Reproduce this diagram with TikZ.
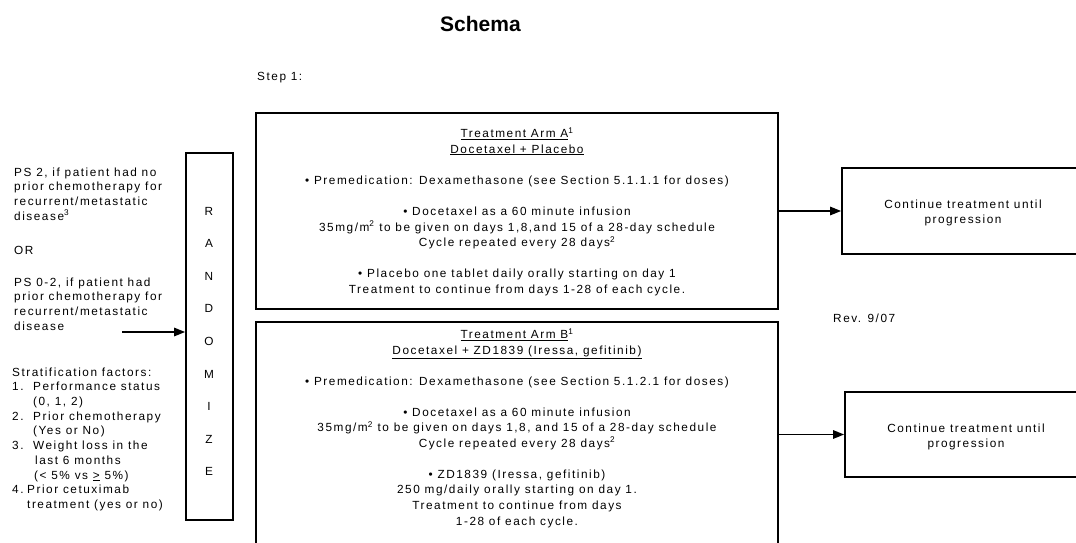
\documentclass[tikz,border=0pt]{standalone}
\usepackage{fontspec}
\setmainfont{Liberation Sans}[LetterSpace=13]
\newfontfamily\titlefont{Liberation Sans}
\usetikzlibrary{arrows.meta}
\begin{document}
\begin{tikzpicture}[x=1pt,y=-1pt,
  box/.style={draw,line width=1.8pt,inner sep=0pt},
  txt/.style={inner sep=0pt,font=\fontsize{11.8}{15.6}\selectfont},
  ltxt/.style={inner sep=0pt,align=left,anchor=north west,font=\fontsize{11.8}{14.7}\selectfont},
  arr/.style={line width=1.4pt,-{Triangle[length=11pt,width=8.5pt]}}]
\useasboundingbox (0,0) rectangle (1076,542);
\clip (0,0) rectangle (1076,542);

\node[anchor=base,inner sep=0pt] (title) at (480.5,31) {\titlefont\bfseries\fontsize{21}{25}\selectfont Schema};
\node[txt,anchor=base west] (step) at (257,80) {Step 1:};
\node[txt,anchor=base west] (rev) at (833,322) {Rev. 9/07};

% boxes
\node[box,minimum width=47pt,minimum height=367pt] (rnd) at (209.5,336.5) {};
\node[box,minimum width=522pt,minimum height=196pt] (armA) at (517,211) {};
\node[box,minimum width=522pt,minimum height=250pt] (armB) at (517,447) {};
\node[box,minimum width=242pt,minimum height=86pt] (contA) at (963,211) {};
\node[box,minimum width=242pt,minimum height=85pt] (contB) at (966,434.5) {};

% randomize letters
\foreach \l [count=\i from 0] in {R,A,N,D,O,M,I,Z,E}
  \node[txt] (r\i) at (209,{211+32.6*\i}) {\l};

% arm texts
\node[txt,align=center,anchor=north] (armAtxt) at (517,127.2) {%
\underline{Treatment Arm A}\textsuperscript{1}\\
\underline{Docetaxel + Placebo}\\[15.6pt]
• Premedication: Dexamethasone (see Section 5.1.1.1 for doses)\\[15.6pt]
• Docetaxel as a 60 minute infusion\\
35mg/m\textsuperscript{2} to be given on days 1,8,and 15 of a 28-day schedule\\
Cycle repeated every 28 days\textsuperscript{2}\\[15.6pt]
• Placebo one tablet daily orally starting on day 1\\
Treatment to continue from days 1-28 of each cycle.};

\node[txt,align=center,anchor=north] (armBtxt) at (517,328.2) {%
\underline{Treatment Arm B}\textsuperscript{1}\\
\underline{Docetaxel + ZD1839 (Iressa, gefitinib)}\\[15.4pt]
• Premedication: Dexamethasone (see Section 5.1.2.1 for doses)\\[15.4pt]
• Docetaxel as a 60 minute infusion\\
35mg/m\textsuperscript{2} to be given on days 1,8, and 15 of a 28-day schedule\\
Cycle repeated every 28 days\textsuperscript{2}\\[15.4pt]
• ZD1839 (Iressa, gefitinib)\\
250 mg/daily orally starting on day 1.\\
Treatment to continue from days\\
1-28 of each cycle.};

\node[txt,align=center,anchor=north] (contAtxt) at (963,199.3) {Continue treatment until\\progression};
\node[txt,align=center,anchor=north] (contBtxt) at (966,423.3) {Continue treatment until\\progression};

% left texts
\node[ltxt] (ps2) at (14,167.4) {PS 2, if patient had no\\prior chemotherapy for\\recurrent/metastatic\\disease\textsuperscript{3}};
\node[txt,anchor=base west] (or) at (14,254) {OR};
\node[ltxt] (ps02) at (14,277.4) {PS 0-2, if patient had\\prior chemotherapy for\\recurrent/metastatic\\disease};
\node[ltxt] (strat) at (12,367.4) {Stratification factors:\\
\makebox[21pt][l]{1.}Performance status\\
\hspace*{21pt}(0, 1, 2)\\
\makebox[21pt][l]{2.}Prior chemotherapy\\
\hspace*{21pt}(Yes or No)\\
\makebox[21pt][l]{3.}Weight loss in the\\
\hspace*{23pt}last 6 months\\
\hspace*{22pt}(< 5\% vs \underline{>} 5\%)\\
\makebox[15pt][l]{4.}Prior cetuximab\\
\hspace*{15pt}treatment (yes or no)};

% connectors
\draw[arr] (armA.east) -- (contA.west);
\draw[arr] (armB.east |- contB.west) -- (contB.west);
\coordinate (ain) at (122,332);
\draw[arr] (ain) -- (ain -| rnd.west);
\end{tikzpicture}
\end{document}
